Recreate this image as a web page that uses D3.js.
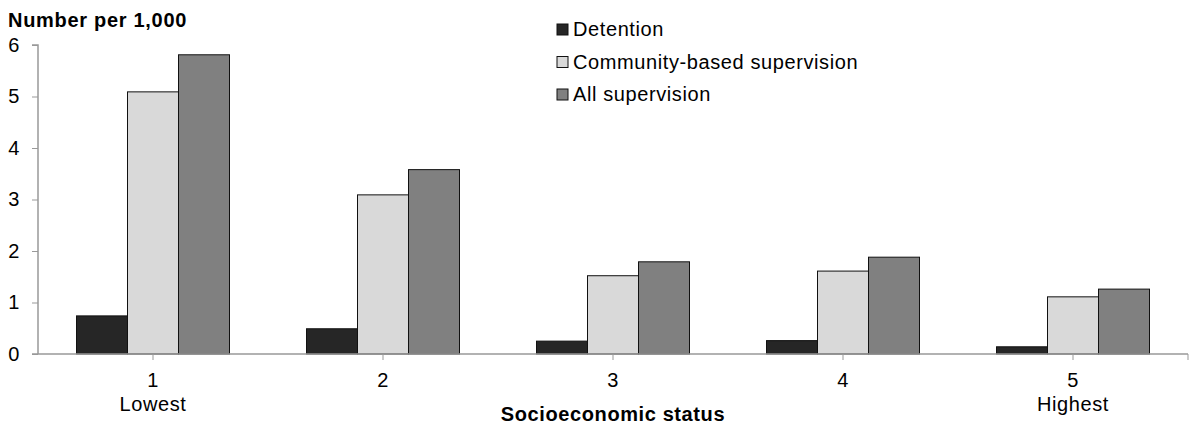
<!DOCTYPE html>
<html><head><meta charset="utf-8">
<script src="https://cdn.jsdelivr.net/npm/d3@7"></script>
<style>body{margin:0;background:#fff}svg{display:block;font-family:"Liberation Sans",Arial,sans-serif}text{letter-spacing:0.6px}</style>
</head><body><svg id="c" width="1192" height="425"></svg>
<script>
const categories = ["1","2","3","4","5"];
const subLabels = ["Lowest","","","","Highest"];
const seriesNames = ["Detention","Community-based supervision","All supervision"];
const detention = [0.74, 0.49, 0.25, 0.26, 0.14];
const community = [5.09, 3.09, 1.52, 1.61, 1.11];
const allSup = [5.81, 3.58, 1.79, 1.88, 1.26];
const yTicks = [0,1,2,3,4,5,6];
const colors = ["#262626","#d9d9d9","#808080"];

const svg = d3.select("#c");
const m = {l:38, r:4, t:45, b:71};
const FS = 20;
const x = d3.scaleBand().domain(categories).range([m.l, 1188]).paddingInner(0).paddingOuter(0);
const y = d3.scaleLinear().domain([0,6]).range([354, 45]);
const series = [detention, community, allSup];
const barW = 51;

// bars
seriesNames.forEach((s,i)=>{
  svg.append("g").selectAll("rect").data(categories).join("rect")
    .attr("x", c=> x(c)+ (x.bandwidth()-3*barW)/2 + i*barW)
    .attr("width", barW)
    .attr("y", (c,j)=> y(series[i][j]))
    .attr("height", (c,j)=> y(0)-y(series[i][j]))
    .attr("fill", colors[i]).attr("stroke","#111").attr("stroke-width",1);
});

// y axis
const ya = svg.append("g").attr("transform",`translate(${m.l},0)`)
  .call(d3.axisLeft(y).tickValues(yTicks).tickSize(6).tickFormat(d3.format("d")));
ya.select(".domain").attr("stroke","#999").attr("stroke-width",1.5).attr("d",`M-6,${y(6)}H0V${y(0)}`);
ya.selectAll(".tick line").attr("stroke","#999");
ya.selectAll(".tick text").attr("font-size",FS).attr("fill","#000").attr("x",-18).attr("font-family","Liberation Sans, Arial, sans-serif");

// x axis
const xa = svg.append("g").attr("transform",`translate(0,${y(0)})`)
  .call(d3.axisBottom(x).tickSize(0).tickFormat(""));
xa.select(".domain").attr("stroke","#999").attr("stroke-width",1.5).attr("d",`M${m.l-6},0H1188`);
xa.selectAll(".tick").remove();
const tks = categories.map(c=>x(c)+x.bandwidth()/2);
tks.concat([1188]).forEach(t=>{
  xa.append("line").attr("x1",t).attr("x2",t).attr("y1",0).attr("y2",6).attr("stroke","#999").attr("stroke-width",1);
});
categories.forEach((c,i)=>{
  const cx = x(c)+x.bandwidth()/2;
  svg.append("text").attr("x",cx).attr("y",387).attr("text-anchor","middle").attr("font-size",FS).text(c);
  if(subLabels[i]) svg.append("text").attr("x",cx).attr("y",411).attr("text-anchor","middle").attr("font-size",FS).text(subLabels[i]);
});

// titles
svg.append("text").attr("x",8).attr("y",27).attr("font-size",FS).attr("font-weight","bold").style("letter-spacing","0.7px").text("Number per 1,000");
svg.append("text").attr("x",(m.l+1188)/2).attr("y",421).attr("text-anchor","middle").attr("font-size",FS).attr("font-weight","bold").text("Socioeconomic status");

// legend
const lg = svg.append("g");
seriesNames.forEach((s,i)=>{
  const base = 36 + i*32.5;
  lg.append("rect").attr("x",557).attr("y",base-12).attr("width",11).attr("height",11).attr("fill",colors[i]).attr("stroke","#111").attr("stroke-width",1);
  lg.append("text").attr("x",573).attr("y",base).attr("font-size",FS).text(s);
});
</script></body></html>
